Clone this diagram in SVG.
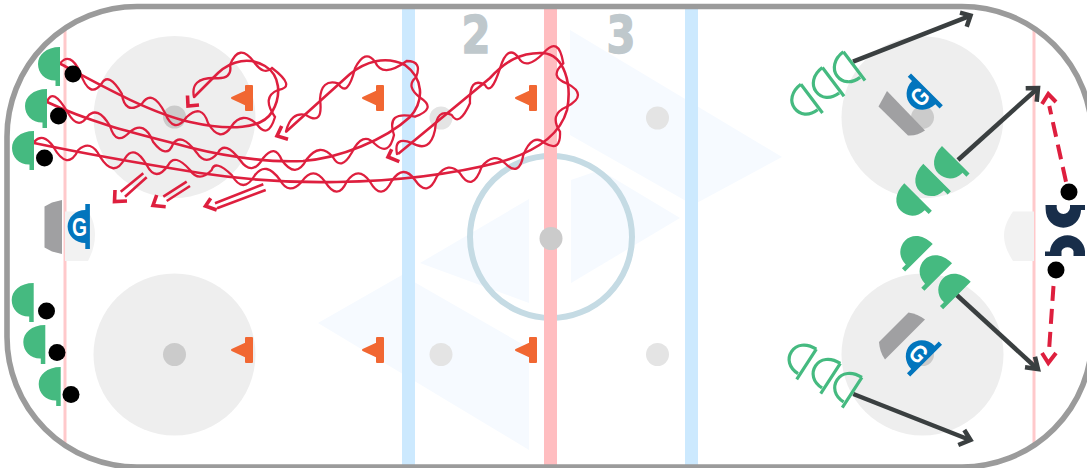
<svg xmlns="http://www.w3.org/2000/svg" width="1087" height="468" viewBox="0 0 1087 468">
<style>
.diamond{fill:#f6faff}
.zone{fill:#eeeeee}
.dot{fill:#e4e4e4}
.fdot{fill:#cbcbcb}
.blue{fill:#cce9fe}
.redl{fill:#ffbdc0}
.goal{fill:#ffc9cb}
.crease{fill:#f2f2f2}
.net{fill:#a0a0a2}
.num{font-family:"DejaVu Sans",sans-serif;font-weight:700;font-size:52px;fill:#bfc8cc;stroke:#bfc8cc;stroke-width:1.5px;text-anchor:middle}
.cone{fill:#f16732;stroke:#f16732;stroke-width:2;stroke-linejoin:round}
.pf{fill:#45ba80}
.po{fill:none;stroke:#45ba80;stroke-width:3.2}
.puck{fill:#000}
.gb{fill:#0275bd}
.gt{font-family:"Liberation Sans",sans-serif;font-weight:700;font-size:25px;fill:#fff;text-anchor:middle}
.wave{fill:none;stroke:#de1f3e;stroke-width:2.3;stroke-linecap:round}
.red{fill:none;stroke:#de1f3e;stroke-width:2.6}
.head{fill:none;stroke:#de1f3e;stroke-width:3.6}
.dash{fill:none;stroke:#de1f3e;stroke-width:4;stroke-dasharray:15 8}
.blk{fill:none;stroke:#3a3f40;stroke-width:4.5}
.coach{fill:#182e4a}
</style>
<defs>
<clipPath id="rinkclip"><rect x="7" y="6.5" width="1085" height="460.5" rx="130" ry="130"/></clipPath>
<path id="pfill" d="M0-17V22H-4.5V16.5H-5C-15 16.5-22 9-22 0C-22-9-14-17 0-17Z"/>
<path id="pline" d="M-1-15.5V20.5M-1-15.5C-13-15.5-20.5-8.5-20.5 0C-20.5 8.500-14 15-3 15"/>
<path id="gshape" d="M-2.300-22.500H2.300V22.500H-2.300V16.500C-12-16-20-9-20 0C-20 9-12 16.500-2.300 16.500V-16.500Z"/>
</defs>
<g id="rink">
<rect x="7" y="6.500" width="1085" height="460.500" rx="130" ry="130" fill="#fff"/>
<g clip-path="url(#rinkclip)">
<polygon class="diamond" points="570,30 782,157 693,205 570,135"/>
<polygon class="diamond" points="571,180 600,170 680,218 571,283"/>
<polygon class="diamond" points="420,263 529,199 529,303"/>
<polygon class="diamond" points="318,323 402,275 529,348 529,450"/>
<circle class="zone" cx="174.500" cy="117" r="81"/>
<circle class="zone" cx="174.500" cy="354.500" r="81"/>
<circle class="zone" cx="922.500" cy="117.300" r="81"/>
<circle class="zone" cx="922.500" cy="354.500" r="81"/>
<circle cx="551" cy="237" r="81" fill="none" stroke="#c5dbe4" stroke-width="6"/>
<rect class="blue" x="402" y="0" width="13" height="468"/>
<rect class="blue" x="685" y="0" width="13" height="468"/>
<rect class="redl" x="544" y="0" width="13" height="468"/>
<rect class="goal" x="63.500" y="0" width="3" height="468"/>
<rect class="goal" x="1032.500" y="0" width="3" height="468"/>
<path class="crease" d="M65 211.500H88C93 219 95 227 95 235C95 245 92 253 88 261H65Z"/>
<path class="crease" d="M1034 211.500H1013C1008 219 1004 227 1004 235C1004 245 1008 253 1013 261H1034Z"/>
<circle class="fdot" cx="174.500" cy="117" r="11.500"/>
<circle class="fdot" cx="174.500" cy="354.500" r="11.500"/>
<circle class="fdot" cx="922.500" cy="117.300" r="11.500"/>
<circle class="fdot" cx="922.500" cy="354.500" r="11.500"/>
<circle class="dot" cx="441" cy="118" r="11.500"/>
<circle class="dot" cx="657.500" cy="118" r="11.500"/>
<circle class="dot" cx="441" cy="354.500" r="11.500"/>
<circle class="dot" cx="657.500" cy="354.500" r="11.500"/>
<circle class="fdot" cx="551" cy="238.500" r="11.500"/>
</g>
<rect x="7" y="6.500" width="1085" height="460.500" rx="130" ry="130" fill="none" stroke="#9b9b9b" stroke-width="5.600"/>
<text class="num" x="476" y="53" textLength="29" lengthAdjust="spacingAndGlyphs">2</text>
<text class="num" x="621" y="53" textLength="29" lengthAdjust="spacingAndGlyphs">3</text>
</g>
<g id="net-left"><path class="net" d="M62 200V254L52 251.500L44.500 247.500V206.500L52 202.500Z"/></g>
<g id="net-top"><path class="net" d="M887 91L925 130.500C920 134 914 136 908 135.500L878.500 106.500Z"/></g>
<g id="net-bottom"><path class="net" d="M908.500 312.500C915 313.500 920 316 925 319.500L885 359.500C881 354 879.500 348 879 342Z"/></g>
<g id="goalie-left"><path class="gb" d="M-2.300-22.500H2.300V22.500H-2.300V16.500C-12 16.500-20 9-20 0C-20-9-12-16.500-2.300-16.500Z" transform="translate(87.600 226.500)"/><text class="gt" x="79.500" y="235.500" textLength="15" lengthAdjust="spacingAndGlyphs">G</text></g>
<g id="goalie-top" transform="translate(925.300 91) rotate(-45)"><path class="gb" d="M-2.300-22.500H2.300V22.500H-2.300V16.500C-12 16.500-20 9-20 0C-20-9-12-16.500-2.300-16.500Z"/><text class="gt" x="-8" y="9" textLength="15" lengthAdjust="spacingAndGlyphs">G</text></g>
<g id="goalie-bottom" transform="translate(924.500 359) rotate(45)"><path class="gb" d="M-2.300-22.500H2.300V22.500H-2.300V16.500C-12 16.500-20 9-20 0C-20-9-12-16.500-2.300-16.500Z"/><text class="gt" x="-8" y="9" textLength="15" lengthAdjust="spacingAndGlyphs">G</text></g>
<g id="cones">
<path id="cone1" class="cone" d="M232 98L246 91.500V86H252V110H246V104.500Z"/>
<path id="cone2" class="cone" d="M363 98L377 91.500V86H383V110H377V104.500Z"/>
<path id="cone3" class="cone" d="M516 98L530 91.500V86H536V110H530V104.500Z"/>
<path id="cone4" class="cone" d="M232 350L246 343.500V338H252V362H246V356.500Z"/>
<path id="cone5" class="cone" d="M363 350L377 343.500V338H383V362H377V356.500Z"/>
<path id="cone6" class="cone" d="M516 350L530 343.500V338H536V362H530V356.500Z"/>
</g>
<g id="connectors">
<g id="skate-1">
<path class="red" d="M60 63.500C100 85 150 113 190 122C230 131 262 129 272 112C282 95 280 75 265 66C250 57 232 60 218 73L194 97"/>
<path class="wave" d="M60 63.500Q70 51 80 72Q89.500 100 101.700 83.500Q108.500 71.500 121.700 93.500Q125 115.500 141.700 104Q152 88 165 113Q174 135 186.700 117Q202 103 208 123Q220 144 231.700 126Q242 111 256.700 124Q268 140 275 117Q261 97 278 90Q297 87 272 68Q264 76 254 62Q239 42 230 65Q233 80 214 78Q190 78 194 97"/>
<polyline class="head" points="187.500,95.500 188,106 199,105"/>
</g>
<g id="skate-2">
<path class="red" d="M47 102C90 122 130 132 173 143C215 155 265 163 303 161C340 158 385 140 410 117C425 100 423 78 405 65C385 55 365 62 350 74L286 131.700"/>
<path class="wave" d="M47 102Q52.500 86 68 113Q78.300 130.500 87.300 116.700Q97.500 105 110 126Q116 147 130 131.700Q144.500 120 153 141.700Q167 160 173 144Q181 131.700 196.700 152.700Q206 167 218 152.700Q225 140 240 160Q252 177 263 158.300Q275 143 281.700 160Q295.800 180 306.700 159.300Q320 141.700 333 157.300Q341 171.600 351.700 152.700Q362.700 130.300 375 144Q389 157 394 135Q385.500 110 415 116.700Q437 108.700 420.700 98Q405 86.300 416 77.300Q422.700 61 406.700 61Q382.500 78.700 375 61.700Q365 48.300 355 68.300Q347.500 98.800 338 83.300Q321 78.700 320 99.300Q323.500 126.500 306 115Q290.700 111.300 286 131.700"/>
<polyline class="head" points="281.700,126 277,136 288,139.300"/>
</g>
<g id="skate-3">
<path class="red" d="M34 143C100 157 150 165 200 173C240 179 290 183 337 182C400 181 450 175 500 162C535 152 560 135 567 110C572 85 565 55 543 53C520 52 505 62 490 78L398 154"/>
<path class="wave" d="M34 142Q43 132 53.300 146.700Q67.500 171.700 78.300 150Q91 138.700 100 156.700Q114 179 125 158.300Q134.200 143.700 146.700 165Q156 183 168.300 165Q174.500 152.500 190 170Q199 183.400 211.700 170Q215 159 231.700 175Q243.300 195 255 175Q266 160.500 280 180Q289 196 301.700 181.700Q313.300 165 325 181.700Q337.500 201.700 346.700 181.700Q358.300 165 370 181.700Q381.500 202 391.700 181Q403.300 163.500 415 180Q427.500 198.300 436.700 176.700Q448.300 160.400 460 173.300Q472.600 193.400 481.700 166.700Q493.300 151.600 505 163.300Q519.400 177.600 523.300 155Q532.600 132.400 545 143.300Q561 152.500 560 131.700Q548.700 114.400 566.700 106.700Q589.300 95 566.700 83.300Q548.400 76.700 563.300 63.300Q558.700 35 543.300 53.300Q525.800 71.300 518.300 57.300Q507.600 43.800 500 68.300Q490.900 96.700 485 85Q469 76 470 103.300Q459 127.600 451.700 115Q436.700 107.500 435 130Q430 153.500 412 143Q393.500 135.500 397 154"/>
<polyline class="head" points="391.700,149.300 388,157 399.300,161.700"/>
</g>
<g id="pass-1">
<path class="red" d="M143.300 173.300L120.700 191.700M146.700 177.300L125 196.700"/>
<polyline class="head" points="115,190 114.500,201.500 127,201"/>
</g>
<g id="pass-2">
<path class="red" d="M186.700 181.700L163.300 196.700M190 186L166.700 201"/>
<polyline class="head" points="156.700,195 153,205.500 165.700,206.700"/>
</g>
<g id="pass-3">
<path class="red" d="M263.300 184.300L215 203.300M265.700 190L217 208.300"/>
<polyline class="head" points="210.700,198.300 205.500,206 216.700,210"/>
</g>
<g id="shot-1"><path class="blk" d="M853 61.700L970 15.800"/><polyline class="blk" points="960,12.700 970.500,15.500 966.700,26.700"/></g>
<g id="shot-2"><path class="blk" d="M958 160L1037.500 88.500"/><polyline class="blk" points="1025.700,88.300 1038,88 1036.700,101.700"/></g>
<g id="shot-3"><path class="blk" d="M956.700 295L1037.500 369"/><polyline class="blk" points="1025,367.300 1038,369 1035,356.700"/></g>
<g id="shot-4"><path class="blk" d="M853.300 394L970 440"/><polyline class="blk" points="958.300,445 970.500,440 964.300,430"/></g>
<g id="dash-1"><path class="dash" d="M1066 181.700L1049.300 106"/><polyline class="head" style="stroke-width:4" points="1042,104 1048.300,94 1056,102"/></g>
<g id="dash-2"><path class="dash" d="M1053.500 286L1049 351"/><polyline class="head" style="stroke-width:4" points="1042,353 1048.300,363 1056,353"/></g>
</g>
<g id="player-l1"><use href="#pfill" class="pf" transform="translate(60 64)"/><circle class="puck" cx="73" cy="74" r="8.500"/></g>
<g id="player-l2"><use href="#pfill" class="pf" transform="translate(47 106)"/><circle class="puck" cx="58.500" cy="116" r="8.500"/></g>
<g id="player-l3"><use href="#pfill" class="pf" transform="translate(34 148)"/><circle class="puck" cx="44.500" cy="158" r="8.500"/></g>
<g id="player-l4"><use href="#pfill" class="pf" transform="translate(33.700 300)"/><circle class="puck" cx="46.500" cy="311" r="8.500"/></g>
<g id="player-l5"><use href="#pfill" class="pf" transform="translate(45.300 342)"/><circle class="puck" cx="57" cy="352.500" r="8.500"/></g>
<g id="player-l6"><use href="#pfill" class="pf" transform="translate(60.700 384)"/><circle class="puck" cx="71" cy="394.500" r="8.500"/></g>
<g id="player-r1"><use href="#pfill" class="pf" transform="translate(954 158) rotate(-45)"/></g>
<g id="player-r2"><use href="#pfill" class="pf" transform="translate(935.300 175.700) rotate(-45)"/></g>
<g id="player-r3"><use href="#pfill" class="pf" transform="translate(916.300 195.300) rotate(-45)"/></g>
<g id="player-r4"><use href="#pfill" class="pf" transform="translate(920.700 256) rotate(45)"/></g>
<g id="player-r5"><use href="#pfill" class="pf" transform="translate(940 275.300) rotate(45)"/></g>
<g id="player-r6"><use href="#pfill" class="pf" transform="translate(958.700 293.700) rotate(45)"/></g>
<g id="player-o1"><use href="#pline" class="po" transform="translate(853.500 63.600) rotate(-37)"/></g>
<g id="player-o2"><use href="#pline" class="po" transform="translate(832.500 79.300) rotate(-37)"/></g>
<g id="player-o3"><use href="#pline" class="po" transform="translate(811 96) rotate(-37)"/></g>
<g id="player-o4"><use href="#pline" class="po" transform="translate(854.300 391) rotate(33)"/></g>
<g id="player-o5"><use href="#pline" class="po" transform="translate(832.700 377) rotate(33)"/></g>
<g id="player-o6"><use href="#pline" class="po" transform="translate(808.700 362.700) rotate(33)"/></g>
<g id="coach">
<circle class="puck" cx="1069" cy="192" r="8.500"/>
<circle class="puck" cx="1056" cy="270" r="8.500"/>
<path class="coach" d="M1045.500 205H1056.700V208A6.700 6.700 0 0 0 1070 208V205H1085V210H1081A17.600 17.600 0 0 1 1045.700 210Z"/>
<path class="coach" d="M1045 256V251.500H1050V251A17.600 17.600 0 0 1 1085 251V256H1073.500V251A6.700 6.700 0 0 0 1061.500 251V256Z"/>
</g>
</svg>
